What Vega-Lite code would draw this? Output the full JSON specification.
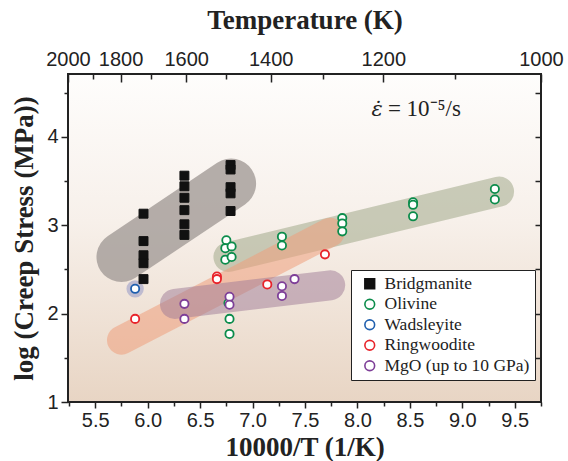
{
  "$schema": "https://vega.github.io/schema/vega-lite/v6.json",
  "width": 473,
  "height": 328,
  "autosize": {"type": "none"},
  "padding": {"left": 68, "top": 74, "right": 27, "bottom": 59},
  "background": "white",
  "config": {
    "view": {
      "fill": {"gradient": "linear", "x1": 0, "y1": 0, "x2": 0, "y2": 1,
        "stops": [{"offset": 0, "color": "#fefdfc"}, {"offset": 0.45, "color": "#f7f0ea"}, {"offset": 1, "color": "#e8d5c4"}]},
      "stroke": "#222",
      "strokeWidth": 2
    },
    "axis": {
      "domain": false, "grid": false,
      "labelFont": "Liberation Sans", "labelFontSize": 20, "labelColor": "#222",
      "tickColor": "#222", "tickWidth": 1.5,
      "titleFont": "Liberation Serif", "titleFontSize": 27, "titleFontWeight": "bold", "titleColor": "#222"
    },
    "legend": {
      "labelFont": "Liberation Serif", "labelFontSize": 17.5, "labelColor": "#222",
      "fillColor": "white", "strokeColor": "#222",
      "padding": 5, "symbolOffset": 5, "rowPadding": 1.5, "symbolSize": 95,
      "symbolStrokeWidth": 1.6, "labelOffset": 6
    }
  },
  "datasets": {
    "bands": [
      {"band": "Bridgmanite", "x": 5.75, "y": 2.64},
      {"band": "Bridgmanite", "x": 6.795, "y": 3.47},
      {"band": "Olivine", "x": 6.77, "y": 2.64},
      {"band": "Olivine", "x": 9.35, "y": 3.38},
      {"band": "Ringwoodite", "x": 5.75, "y": 1.70},
      {"band": "Ringwoodite", "x": 7.74, "y": 2.92},
      {"band": "MgO", "x": 6.26, "y": 2.11},
      {"band": "MgO", "x": 7.74, "y": 2.32},
      {"band": "Wadsleyite", "x": 5.88, "y": 2.28}
    ],
    "points": [
      {"series": "Bridgmanite", "x": 5.96, "y": 3.13},
      {"series": "Bridgmanite", "x": 5.96, "y": 2.82},
      {"series": "Bridgmanite", "x": 5.96, "y": 2.66},
      {"series": "Bridgmanite", "x": 5.96, "y": 2.57},
      {"series": "Bridgmanite", "x": 5.96, "y": 2.39},
      {"series": "Bridgmanite", "x": 6.35, "y": 3.56},
      {"series": "Bridgmanite", "x": 6.35, "y": 3.44},
      {"series": "Bridgmanite", "x": 6.35, "y": 3.31},
      {"series": "Bridgmanite", "x": 6.35, "y": 3.17},
      {"series": "Bridgmanite", "x": 6.35, "y": 3.01},
      {"series": "Bridgmanite", "x": 6.35, "y": 2.89},
      {"series": "Bridgmanite", "x": 6.79, "y": 3.68},
      {"series": "Bridgmanite", "x": 6.79, "y": 3.63},
      {"series": "Bridgmanite", "x": 6.79, "y": 3.43},
      {"series": "Bridgmanite", "x": 6.79, "y": 3.36},
      {"series": "Bridgmanite", "x": 6.79, "y": 3.16},
      {"series": "Olivine", "x": 6.75, "y": 2.83},
      {"series": "Olivine", "x": 6.74, "y": 2.74},
      {"series": "Olivine", "x": 6.80, "y": 2.76},
      {"series": "Olivine", "x": 6.74, "y": 2.61},
      {"series": "Olivine", "x": 6.80, "y": 2.64},
      {"series": "Olivine", "x": 6.77, "y": 2.12},
      {"series": "Olivine", "x": 6.78, "y": 1.94},
      {"series": "Olivine", "x": 6.78, "y": 1.77},
      {"series": "Olivine", "x": 7.28, "y": 2.87},
      {"series": "Olivine", "x": 7.28, "y": 2.77},
      {"series": "Olivine", "x": 7.855, "y": 3.08},
      {"series": "Olivine", "x": 7.855, "y": 3.02},
      {"series": "Olivine", "x": 7.855, "y": 2.93},
      {"series": "Olivine", "x": 8.53, "y": 3.26},
      {"series": "Olivine", "x": 8.53, "y": 3.23},
      {"series": "Olivine", "x": 8.53, "y": 3.10},
      {"series": "Olivine", "x": 9.31, "y": 3.41},
      {"series": "Olivine", "x": 9.31, "y": 3.29},
      {"series": "Wadsleyite", "x": 5.88, "y": 2.28},
      {"series": "Ringwoodite", "x": 5.88, "y": 1.94},
      {"series": "Ringwoodite", "x": 6.66, "y": 2.42},
      {"series": "Ringwoodite", "x": 6.66, "y": 2.39},
      {"series": "Ringwoodite", "x": 7.14, "y": 2.33},
      {"series": "Ringwoodite", "x": 7.69, "y": 2.67},
      {"series": "MgO (up to 10 GPa)", "x": 6.35, "y": 2.11},
      {"series": "MgO (up to 10 GPa)", "x": 6.35, "y": 1.94},
      {"series": "MgO (up to 10 GPa)", "x": 6.78, "y": 2.19},
      {"series": "MgO (up to 10 GPa)", "x": 6.78, "y": 2.10},
      {"series": "MgO (up to 10 GPa)", "x": 7.28, "y": 2.31},
      {"series": "MgO (up to 10 GPa)", "x": 7.28, "y": 2.20},
      {"series": "MgO (up to 10 GPa)", "x": 7.40, "y": 2.39}
    ],
    "notes": [
      {"part": "eps", "x": 8.135, "y": 4.23, "text": "ε̇"},
      {"part": "rest", "x": 8.29, "y": 4.23, "text": "= 10⁻⁵/s"}
    ],
    "frame": [
      {"t": 5, "s": 1},
      {"t": 10, "s": 4.71}
    ]
  },
  "layer": [
    {
      "encoding": {
        "x": {
          "field": "x", "type": "quantitative",
          "scale": {"domain": [5.24, 9.75], "nice": false, "zero": false},
          "axis": {
            "orient": "bottom",
            "values": [5.25, 5.5, 5.75, 6, 6.25, 6.5, 6.75, 7, 7.25, 7.5, 7.75, 8, 8.25, 8.5, 8.75, 9, 9.25, 9.5, 9.75],
            "labelExpr": "round(datum.value*4) % 2 === 0 ? format(datum.value, '.1f') : ''",
            "tickSize": {"condition": {"test": "round(datum.value*4) % 2 === 0", "value": 6}, "value": 4},
            "labelPadding": 2, "labelFlush": false,
            "title": "10000/T (1/K)", "titlePadding": 4
          }
        },
        "y": {
          "field": "y", "type": "quantitative",
          "scale": {"domain": [1, 4.71], "nice": false, "zero": false},
          "axis": {
            "orient": "left",
            "values": [1, 1.5, 2, 2.5, 3, 3.5, 4, 4.5],
            "labelExpr": "datum.value % 1 === 0 ? format(datum.value, 'd') : ''",
            "tickSize": {"condition": {"test": "datum.value % 1 === 0", "value": 7}, "value": 4},
            "labelPadding": 3, "labelFlush": false,
            "title": "log (Creep Stress (MPa))", "titlePadding": 8
          }
        }
      },
      "layer": [
        {
          "data": {"name": "bands"},
          "transform": [{"filter": "datum.band === 'Bridgmanite'"}],
          "mark": {"type": "line", "strokeWidth": 50, "strokeCap": "round", "color": "#a29b97", "opacity": 0.8}
        },
        {
          "data": {"name": "bands"},
          "transform": [{"filter": "datum.band === 'Olivine'"}],
          "mark": {"type": "line", "strokeWidth": 30, "strokeCap": "round", "color": "#a9af93", "opacity": 0.6}
        },
        {
          "data": {"name": "bands"},
          "transform": [{"filter": "datum.band === 'Ringwoodite'"}],
          "mark": {"type": "line", "strokeWidth": 29, "strokeCap": "round", "color": "#ee9f7c", "opacity": 0.55}
        },
        {
          "data": {"name": "bands"},
          "transform": [{"filter": "datum.band === 'MgO'"}],
          "mark": {"type": "line", "strokeWidth": 30, "strokeCap": "round", "color": "#9e7a95", "opacity": 0.5}
        },
        {
          "data": {"name": "bands"},
          "transform": [{"filter": "datum.band === 'Wadsleyite'"}],
          "mark": {"type": "point", "shape": "circle", "filled": true, "size": 300, "color": "#9d9fc8", "opacity": 0.6}
        },
        {
          "data": {"name": "points"},
          "transform": [{"filter": "datum.series === 'Bridgmanite'"}],
          "mark": {"type": "point", "size": 80, "strokeWidth": 1, "opacity": 1},
          "encoding": {
            "shape": {"field": "series", "type": "nominal",
              "scale": {"domain": ["Bridgmanite", "Olivine", "Wadsleyite", "Ringwoodite", "MgO (up to 10 GPa)"], "range": ["square", "circle", "circle", "circle", "circle"]},
              "legend": {"orient": "none", "legendX": 283, "legendY": 196, "title": null}},
            "fill": {"field": "series", "type": "nominal",
              "scale": {"domain": ["Bridgmanite", "Olivine", "Wadsleyite", "Ringwoodite", "MgO (up to 10 GPa)"], "range": ["#111111", "white", "white", "white", "white"]},
              "legend": {"orient": "none", "legendX": 283, "legendY": 196, "title": null}},
            "stroke": {"field": "series", "type": "nominal",
              "scale": {"domain": ["Bridgmanite", "Olivine", "Wadsleyite", "Ringwoodite", "MgO (up to 10 GPa)"], "range": ["#111111", "#0b8c4b", "#1f5fae", "#e8232a", "#7e3f98"]},
              "legend": {"orient": "none", "legendX": 283, "legendY": 196, "title": null}}
          }
        },
        {
          "data": {"name": "points"},
          "transform": [{"filter": "datum.series !== 'Bridgmanite'"}],
          "mark": {"type": "point", "size": 68, "strokeWidth": 1.8, "opacity": 1},
          "encoding": {
            "shape": {"field": "series", "type": "nominal"},
            "fill": {"field": "series", "type": "nominal"},
            "stroke": {"field": "series", "type": "nominal"}
          }
        },
        {
          "data": {"name": "notes"},
          "transform": [{"filter": "datum.part === 'eps'"}],
          "mark": {"type": "text", "font": "DejaVu Serif", "fontSize": 21, "fontStyle": "italic", "align": "left", "baseline": "alphabetic", "color": "#222"},
          "encoding": {"text": {"field": "text"}}
        },
        {
          "data": {"name": "notes"},
          "transform": [{"filter": "datum.part === 'rest'"}],
          "mark": {"type": "text", "font": "Liberation Serif", "fontSize": 23, "align": "left", "baseline": "alphabetic", "color": "#222"},
          "encoding": {"text": {"field": "text"}}
        }
      ]
    },
    {
      "data": {"name": "frame"},
      "mark": {"type": "point", "opacity": 0},
      "encoding": {
        "x": {
          "field": "t", "type": "quantitative",
          "scale": {"domain": [5, 10], "nice": false, "zero": false},
          "axis": {
            "orient": "top",
            "values": [5, 5.263158, 5.555556, 5.882353, 6.25, 6.666667, 7.142857, 7.692308, 8.333333, 9.090909, 10],
            "labelExpr": "round(10000/datum.value) % 200 === 0 ? format(round(10000/datum.value), 'd') : ''",
            "tickSize": {"condition": {"test": "round(10000/datum.value) % 200 === 0", "value": -8}, "value": -5},
            "labelPadding": 13, "labelFlush": false,
            "title": "Temperature (K)", "titlePadding": 15
          }
        },
        "y": {
          "field": "s", "type": "quantitative",
          "scale": {"domain": [1, 4.71], "nice": false, "zero": false},
          "axis": {
            "orient": "right",
            "values": [1.5, 2, 2.5, 3, 3.5, 4, 4.5],
            "labels": false,
            "tickSize": -6,
            "title": null
          }
        }
      }
    }
  ],
  "resolve": {"scale": {"x": "independent", "y": "independent"}}
}
